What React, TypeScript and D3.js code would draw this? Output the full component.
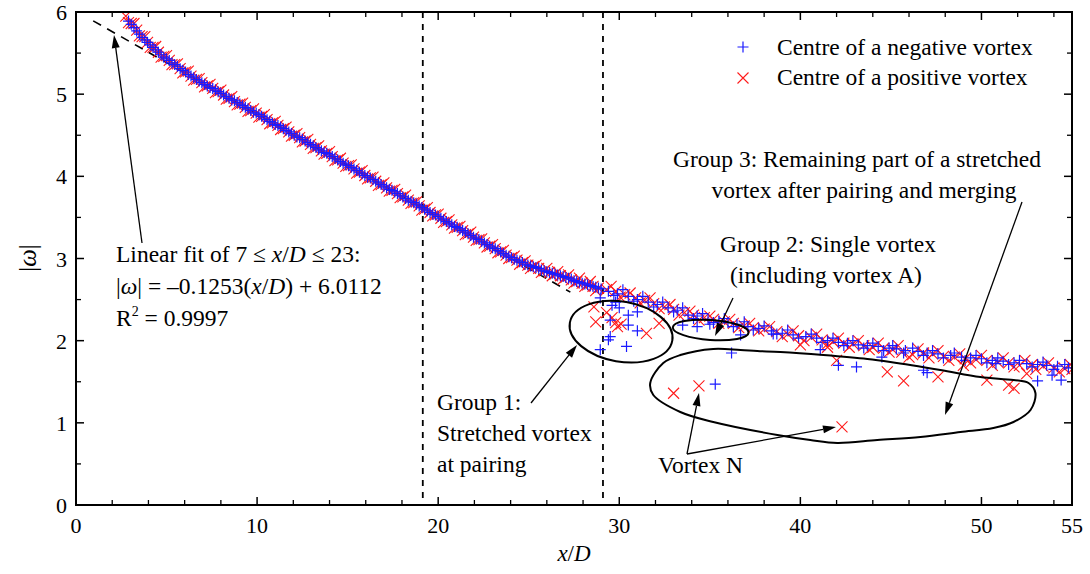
import React from "react";
import * as d3 from "d3";

// ---------- data ----------
const negMain: [number, number][] = [
  [2.9, 5.89], [3.2, 5.81], [3.5, 5.73], [3.8, 5.66], [4.1, 5.6], [4.4, 5.54], [4.7, 5.48], [5.0, 5.43],
  [5.3, 5.38], [5.6, 5.34], [5.9, 5.29], [6.2, 5.24], [6.5, 5.2], [6.8, 5.16], [7.1, 5.12], [7.4, 5.08],
  [7.7, 5.05], [8.0, 5.01], [8.3, 4.97], [8.6, 4.93], [8.9, 4.9], [9.2, 4.86], [9.5, 4.82], [9.8, 4.78],
  [10.1, 4.75], [10.4, 4.71], [10.7, 4.67], [11.0, 4.63], [11.3, 4.6], [11.6, 4.56], [11.9, 4.52], [12.2, 4.48],
  [12.5, 4.45], [12.8, 4.41], [13.1, 4.37], [13.4, 4.33], [13.7, 4.29], [14.0, 4.26], [14.3, 4.22], [14.6, 4.18],
  [14.9, 4.14], [15.2, 4.11], [15.5, 4.07], [15.8, 4.03], [16.1, 3.99], [16.4, 3.96], [16.7, 3.92], [17.0, 3.88],
  [17.3, 3.84], [17.6, 3.81], [17.9, 3.77], [18.2, 3.73], [18.5, 3.69], [18.8, 3.66], [19.1, 3.62], [19.4, 3.58],
  [19.7, 3.54], [20.0, 3.51], [20.3, 3.47], [20.6, 3.43], [20.9, 3.39], [21.2, 3.36], [21.5, 3.32], [21.8, 3.28],
  [22.1, 3.24], [22.4, 3.21], [22.7, 3.17], [23.0, 3.13], [23.3, 3.1], [23.6, 3.06], [23.9, 3.02], [24.2, 2.99],
  [24.5, 2.96], [24.8, 2.93], [25.1, 2.91], [25.4, 2.89], [25.7, 2.86], [26.0, 2.84], [26.3, 2.82], [26.6, 2.8],
  [26.9, 2.78], [27.2, 2.76], [27.5, 2.73], [27.8, 2.71], [28.1, 2.69], [28.4, 2.67], [28.7, 2.65], [29.0, 2.63],
  [29.4, 2.6], [29.9, 2.57], [30.5, 2.54], [31.0, 2.5], [31.6, 2.47], [32.1, 2.44], [32.7, 2.4], [33.2, 2.37],
  [33.8, 2.31], [34.3, 2.3], [34.9, 2.26], [35.5, 2.24], [36.0, 2.22], [36.5, 2.2], [37.1, 2.17], [37.7, 2.15],
  [38.4, 2.12], [39.0, 2.09], [39.6, 2.07], [40.3, 2.05], [40.9, 2.03], [41.5, 2.0], [42.1, 1.98], [42.6, 1.97],
  [43.2, 1.95], [43.7, 1.94], [44.3, 1.93], [44.9, 1.91], [45.3, 1.9], [45.8, 1.88], [46.5, 1.87], [47.0, 1.85],
  [47.6, 1.84], [48.3, 1.82], [48.9, 1.8], [49.4, 1.79], [50.0, 1.78], [50.6, 1.76], [51.2, 1.75], [51.8, 1.73],
  [52.5, 1.72], [53.1, 1.71], [53.6, 1.7], [54.2, 1.69], [54.8, 1.67],
];
const negExtra: [number, number][] = [
  [3.05, 5.85], [3.35, 5.77], [3.65, 5.69], [3.95, 5.63], [4.25, 5.57], [4.55, 5.51], [4.85, 5.45], [5.15, 5.41],
  [5.45, 5.36], [5.75, 5.31], [6.05, 5.27], [6.35, 5.22], [6.65, 5.18], [6.95, 5.14], [7.25, 5.1], [7.55, 5.07],
  [7.85, 5.03], [8.15, 4.99], [8.45, 4.95], [8.75, 4.92], [9.05, 4.88], [9.35, 4.84], [9.65, 4.8], [9.95, 4.77],
  [10.25, 4.73], [10.55, 4.69], [10.85, 4.65], [11.15, 4.62], [11.45, 4.58], [11.75, 4.54], [12.05, 4.5], [12.35, 4.47],
  [12.65, 4.43], [12.95, 4.39], [13.25, 4.35], [13.55, 4.31], [13.85, 4.28], [14.15, 4.24], [14.45, 4.2], [14.75, 4.16],
  [15.05, 4.13], [15.35, 4.09], [15.65, 4.05], [15.95, 4.01], [16.25, 3.98], [16.55, 3.94], [16.85, 3.9], [17.15, 3.86],
  [17.45, 3.83], [17.75, 3.79], [18.05, 3.75], [18.35, 3.71], [18.65, 3.68], [18.95, 3.64], [19.25, 3.6], [19.55, 3.56],
  [19.85, 3.53], [20.15, 3.49], [20.45, 3.45], [20.75, 3.41], [21.05, 3.38], [21.35, 3.34], [21.65, 3.3], [21.95, 3.26],
  [22.25, 3.23], [22.55, 3.19], [22.85, 3.15], [23.15, 3.12], [23.45, 3.08], [23.75, 3.04], [24.05, 3.01], [24.35, 2.98],
  [24.65, 2.95], [24.95, 2.92], [25.25, 2.9], [25.55, 2.88], [25.85, 2.85], [26.15, 2.83], [26.45, 2.81], [26.75, 2.79],
  [27.05, 2.77], [27.35, 2.75], [27.65, 2.72], [27.95, 2.7], [28.25, 2.68], [28.55, 2.66], [28.85, 2.64],
  [29.7, 2.55], [30.2, 2.62], [30.8, 2.48], [31.3, 2.54], [31.9, 2.41], [32.4, 2.47], [33.0, 2.35], [33.5, 2.4],
  [34.1, 2.27], [34.6, 2.33], [35.2, 2.22], [35.8, 2.27], [36.3, 2.17], [36.9, 2.23], [37.4, 2.13], [38.0, 2.18],
  [38.7, 2.08], [39.3, 2.13], [39.9, 2.03], [40.6, 2.08], [41.2, 1.98], [41.8, 2.03], [42.4, 1.94], [42.9, 2.0],
  [43.5, 1.91], [44.0, 1.97], [44.6, 1.88], [45.1, 1.94], [45.7, 1.85], [46.2, 1.91], [46.8, 1.82], [47.3, 1.88],
  [47.9, 1.79], [48.5, 1.85], [49.1, 1.76], [49.7, 1.82], [50.3, 1.73], [50.9, 1.79], [51.5, 1.71], [52.1, 1.76],
  [52.8, 1.68], [53.4, 1.74], [54.0, 1.65], [54.6, 1.71],
];
const negScatter: [number, number][] = [
  [29.6, 2.43], [30.5, 2.31], [31.0, 2.35], [30.5, 2.19], [29.5, 2.25], [31.0, 2.12], [29.5, 2.05],
  [29.4, 2.01], [30.4, 1.93], [28.95, 1.89], [30.0, 2.4], [28.95, 2.52], [29.8, 2.47],
  [33.5, 2.19], [34.3, 2.17], [36.7, 2.07], [35.0, 2.2],
  [36.2, 1.85], [41.1, 1.89], [42.1, 1.7], [43.1, 1.68], [46.8, 1.64], [47.0, 1.61], [53.1, 1.51],
  [54.4, 1.52], [53.9, 1.58], [38.5, 2.08], [44.5, 1.8], [50.8, 1.72], [35.3, 1.47],
];
const posMain: [number, number][] = [
  [2.75, 5.95], [3.05, 5.86], [3.35, 5.78], [3.65, 5.7], [3.95, 5.63], [4.25, 5.57], [4.55, 5.51], [4.85, 5.46],
  [5.15, 5.41], [5.45, 5.36], [5.75, 5.31], [6.05, 5.27], [6.35, 5.22], [6.65, 5.18], [6.95, 5.14], [7.25, 5.1],
  [7.55, 5.07], [7.85, 5.03], [8.15, 4.99], [8.45, 4.95], [8.75, 4.91], [9.05, 4.88], [9.35, 4.84], [9.65, 4.8],
  [9.95, 4.77], [10.25, 4.73], [10.55, 4.69], [10.85, 4.65], [11.15, 4.62], [11.45, 4.58], [11.75, 4.54], [12.05, 4.5],
  [12.35, 4.47], [12.65, 4.43], [12.95, 4.39], [13.25, 4.35], [13.55, 4.31], [13.85, 4.28], [14.15, 4.24], [14.45, 4.2],
  [14.75, 4.16], [15.05, 4.13], [15.35, 4.09], [15.65, 4.05], [15.95, 4.01], [16.25, 3.98], [16.55, 3.94], [16.85, 3.9],
  [17.15, 3.86], [17.45, 3.83], [17.75, 3.79], [18.05, 3.75], [18.35, 3.71], [18.65, 3.68], [18.95, 3.64], [19.25, 3.6],
  [19.55, 3.56], [19.85, 3.53], [20.15, 3.49], [20.45, 3.45], [20.75, 3.41], [21.05, 3.38], [21.35, 3.34], [21.65, 3.3],
  [21.95, 3.26], [22.25, 3.23], [22.55, 3.19], [22.85, 3.15], [23.15, 3.12], [23.45, 3.08], [23.75, 3.04], [24.05, 3.01],
  [24.35, 2.98], [24.65, 2.95], [24.95, 2.92], [25.25, 2.9], [25.55, 2.88], [25.85, 2.85], [26.15, 2.83], [26.45, 2.81],
  [26.75, 2.79], [27.05, 2.77], [27.35, 2.74], [27.65, 2.72], [27.95, 2.7], [28.25, 2.68], [28.55, 2.66], [28.85, 2.64],
  [29.3, 2.62], [29.8, 2.6], [30.3, 2.56], [30.9, 2.52], [31.4, 2.49], [31.9, 2.45], [32.5, 2.41], [33.0, 2.38],
  [33.6, 2.34], [34.1, 2.31], [34.7, 2.28], [35.2, 2.26], [35.8, 2.23], [36.3, 2.21], [36.9, 2.18], [37.4, 2.16],
  [38.0, 2.14], [38.7, 2.11], [39.3, 2.08], [39.9, 2.06], [40.6, 2.04], [41.2, 2.01], [41.8, 1.99], [42.4, 1.97],
  [42.9, 1.96], [43.5, 1.94], [44.0, 1.92], [44.6, 1.91], [45.1, 1.89], [45.6, 1.86], [46.2, 1.83], [46.8, 1.85],
  [47.3, 1.84], [47.9, 1.81], [48.5, 1.8], [49.1, 1.78], [49.7, 1.77], [50.3, 1.76], [50.9, 1.74], [51.5, 1.73],
  [52.1, 1.7], [52.8, 1.71], [53.4, 1.69], [54.0, 1.67], [54.6, 1.66], [55.0, 1.65],
];
const posExtra: [number, number][] = [
  [2.9, 5.87], [3.2, 5.86], [3.5, 5.71], [3.8, 5.7], [4.1, 5.57], [4.4, 5.58], [4.7, 5.45], [5.0, 5.47],
  [5.3, 5.36], [5.6, 5.37], [5.9, 5.26], [6.2, 5.28], [6.5, 5.17], [6.8, 5.19], [7.1, 5.09], [7.4, 5.12],
  [7.7, 5.02], [8.0, 5.05], [8.3, 4.94], [8.6, 4.97], [8.9, 4.87], [9.2, 4.89], [9.5, 4.79], [9.8, 4.82],
  [10.1, 4.72], [10.4, 4.75], [10.7, 4.64], [11.0, 4.67], [11.3, 4.57], [11.6, 4.6], [11.9, 4.49], [12.2, 4.52],
  [12.5, 4.42], [12.8, 4.45], [13.1, 4.34], [13.4, 4.37], [13.7, 4.27], [14.0, 4.3], [14.3, 4.19], [14.6, 4.22],
  [14.9, 4.12], [15.2, 4.14], [15.5, 4.04], [15.8, 4.07], [16.1, 3.97], [16.4, 3.99], [16.7, 3.89], [17.0, 3.92],
  [17.3, 3.82], [17.6, 3.84], [17.9, 3.74], [18.2, 3.77], [18.5, 3.67], [18.8, 3.69], [19.1, 3.59], [19.4, 3.62],
  [19.7, 3.52], [20.0, 3.54], [20.3, 3.44], [20.6, 3.47], [20.9, 3.37], [21.2, 3.39], [21.5, 3.29], [21.8, 3.32],
  [22.1, 3.22], [22.4, 3.24], [22.7, 3.14], [23.0, 3.17], [23.3, 3.07], [23.6, 3.1], [23.9, 3.0], [24.2, 3.03],
  [24.5, 2.93], [24.8, 2.97], [25.1, 2.88], [25.4, 2.92], [25.7, 2.83], [26.0, 2.88], [26.3, 2.79], [26.6, 2.84],
  [26.9, 2.75], [27.2, 2.8], [27.5, 2.7], [27.8, 2.76], [28.1, 2.66], [28.4, 2.72], [28.7, 2.61],
  [29.55, 2.66], [30.05, 2.53], [30.6, 2.58], [31.15, 2.46], [31.7, 2.52], [32.2, 2.39], [32.8, 2.44], [33.3, 2.31],
  [33.9, 2.36], [34.4, 2.25], [35.0, 2.3], [35.5, 2.21], [36.1, 2.26], [36.6, 2.16], [37.2, 2.21], [37.7, 2.12],
  [38.3, 2.17], [39.0, 2.05], [39.6, 2.12], [40.2, 2.0], [40.9, 2.08], [41.5, 1.96], [42.1, 2.03], [42.7, 1.92],
  [43.2, 2.0], [43.8, 1.89], [44.3, 1.97], [44.9, 1.86], [45.4, 1.94], [46.0, 1.8], [46.5, 1.9], [47.1, 1.79],
  [47.6, 1.88], [48.2, 1.76], [48.8, 1.84], [49.4, 1.73], [50.0, 1.82], [50.6, 1.7], [51.2, 1.79], [51.8, 1.68],
  [52.4, 1.76], [53.0, 1.65], [53.7, 1.73], [54.3, 1.62], [54.9, 1.71],
];
const posScatter: [number, number][] = [
  [28.7, 2.23], [29.3, 2.34], [29.9, 2.17], [31.5, 2.09], [32.2, 2.21], [28.6, 2.41], [29.6, 2.28],
  [29.8, 2.22], [30.1, 2.2],
  [42.0, 1.76], [44.8, 1.62], [45.7, 1.51], [47.6, 1.56], [50.3, 1.52], [51.5, 1.46], [51.8, 1.42],
  [40.0, 1.95], [41.5, 1.92], [49.0, 1.7], [52.5, 1.6],
  [33.0, 1.36], [34.4, 1.45], [42.3, 0.95],
];

const xTicksMajor = [0, 10, 20, 30, 40, 50, 55];
const yTicksMajor = [0, 1, 2, 3, 4, 5, 6];
const fitSlope = -0.1253;
const fitIntercept = 6.0112;
const fitRange = [0.95, 27.3];
const dashedX = [19.15, 29.1];

// annotation shapes (data units)
const group3Outline: [number, number][] = [
  [31.71, 1.485], [31.88, 1.339], [33.37, 1.132], [35.19, 1.01], [38.73, 0.852], [40.55, 0.791],
  [42.04, 0.755], [44.25, 0.791], [46.63, 0.828], [48.84, 0.888], [50.66, 0.937], [51.77, 1.01],
  [52.71, 1.156], [52.98, 1.363], [52.6, 1.485], [51.77, 1.521], [49.94, 1.558], [47.73, 1.643],
  [44.97, 1.74], [43.7, 1.777], [41.27, 1.825], [38.9, 1.862], [37.62, 1.874], [36.69, 1.886],
  [35.19, 1.899], [33.37, 1.825], [32.43, 1.728],
];

export default function App() {
  const W = 1090, H = 574;
  const x = d3.scaleLinear().domain([0, 55]).range([76, 1072]);
  const y = d3.scaleLinear().domain([0, 6]).range([505, 12]);
  const font = "'Liberation Serif', 'Times New Roman', serif";
  const blue = "#1a1aff";
  const red = "#ff1a1a";

  const plus = (cx: number, cy: number, k: string) => (
    <path key={k} d={`M${cx - 5.5},${cy}H${cx + 5.5}M${cx},${cy - 5.5}V${cy + 5.5}`} stroke={blue} strokeWidth={1.2} fill="none" />
  );
  const cross = (cx: number, cy: number, k: string) => (
    <path key={k} d={`M${cx - 5.5},${cy - 5.5}L${cx + 5.5},${cy + 5.5}M${cx - 5.5},${cy + 5.5}L${cx + 5.5},${cy - 5.5}`} stroke={red} strokeWidth={1.1} fill="none" />
  );

  const xMinor = d3.range(0, 55.01, 2).filter((v) => v % 10 !== 0);
  const yMinor = d3.range(0.5, 6, 1);

  const outline = d3.line().x((d: any) => x(d[0])).y((d: any) => y(d[1])).curve(d3.curveCatmullRomClosed)(group3Outline as any) as string;

  const g1c = [x(30.1), y(2.11)];
  const g2c = [x(35.05), y(2.13)];

  const arrow = (x1: number, y1: number, x2: number, y2: number, k: string) => {
    const ang = Math.atan2(y2 - y1, x2 - x1);
    const L = 13, Wd = 4;
    const bx = x2 - L * Math.cos(ang), by = y2 - L * Math.sin(ang);
    const px = -Math.sin(ang) * Wd, py = Math.cos(ang) * Wd;
    return (
      <g key={k}>
        <line x1={x1} y1={y1} x2={bx} y2={by} stroke="#000" strokeWidth={1.3} />
        <path d={`M${x2},${y2}L${bx + px},${by + py}L${bx - px},${by - py}Z`} fill="#000" />
      </g>
    );
  };

  const fs = 23.5;

  return (
    <svg width={W} height={H} style={{ position: "absolute", left: 0, top: 0, background: "#fff" }} fontFamily={font}>
      <defs>
        <clipPath id="plotClip">
          <rect x={x(0)} y={y(6)} width={x(55) - x(0)} height={y(0) - y(6)} />
        </clipPath>
      </defs>

      {dashedX.map((d, i) => (
        <line key={"dv" + i} x1={x(d)} x2={x(d)} y1={y(6)} y2={y(0)} stroke="#000" strokeWidth={1.8} strokeDasharray="6,6" />
      ))}

      <line x1={x(fitRange[0])} y1={y(fitIntercept + fitSlope * fitRange[0])} x2={x(fitRange[1])} y2={y(fitIntercept + fitSlope * fitRange[1])}
        stroke="#000" strokeWidth={1.6} strokeDasharray="9,7" />

      <g clipPath="url(#plotClip)">
        {posMain.map((d, i) => cross(x(d[0]), y(d[1]), "pm" + i))}
        {posExtra.map((d, i) => cross(x(d[0]), y(d[1]), "pe" + i))}
        {negMain.map((d, i) => plus(x(d[0]), y(d[1]), "nm" + i))}
        {negExtra.map((d, i) => plus(x(d[0]), y(d[1]), "ne" + i))}
        {posScatter.map((d, i) => cross(x(d[0]), y(d[1]), "ps" + i))}
        {negScatter.map((d, i) => plus(x(d[0]), y(d[1]), "ns" + i))}
      </g>

      <ellipse cx={g1c[0]} cy={g1c[1]} rx={52} ry={30} transform={`rotate(10 ${g1c[0]} ${g1c[1]})`} fill="none" stroke="#000" strokeWidth={2} />
      <ellipse cx={g2c[0]} cy={g2c[1]} rx={38} ry={10} transform={`rotate(4 ${g2c[0]} ${g2c[1]})`} fill="none" stroke="#000" strokeWidth={2} />
      <path d={outline} fill="none" stroke="#000" strokeWidth={2} />

      {arrow(142, 243, 114, 35, "a1")}
      {arrow(531, 403, 577, 345, "a2")}
      {arrow(733, 298, 715, 336, "a3")}
      {arrow(1022, 202, 945, 415, "a4")}
      {arrow(687, 454, 699, 393, "a5")}
      {arrow(687, 454, 836, 427, "a6")}

      <rect x={x(0)} y={y(6)} width={x(55) - x(0)} height={y(0) - y(6)} fill="none" stroke="#000" strokeWidth={2} />

      {xTicksMajor.map((t) => (
        <g key={"xt" + t}>
          <line x1={x(t)} x2={x(t)} y1={y(0)} y2={y(0) - 8} stroke="#000" strokeWidth={1.5} />
          <line x1={x(t)} x2={x(t)} y1={y(6)} y2={y(6) + 8} stroke="#000" strokeWidth={1.5} />
          <text x={x(t)} y={533} textAnchor="middle" fontSize={22} fill="#000">{t}</text>
        </g>
      ))}
      {xMinor.map((t) => (
        <g key={"xm" + t}>
          <line x1={x(t)} x2={x(t)} y1={y(0)} y2={y(0) - 5} stroke="#000" strokeWidth={1.3} />
          <line x1={x(t)} x2={x(t)} y1={y(6)} y2={y(6) + 5} stroke="#000" strokeWidth={1.3} />
        </g>
      ))}
      {yTicksMajor.map((t) => (
        <g key={"yt" + t}>
          <line x1={x(0)} x2={x(0) + 8} y1={y(t)} y2={y(t)} stroke="#000" strokeWidth={1.5} />
          <line x1={x(55)} x2={x(55) - 8} y1={y(t)} y2={y(t)} stroke="#000" strokeWidth={1.5} />
          <text x={67} y={y(t) + 8} textAnchor="end" fontSize={22} fill="#000">{t}</text>
        </g>
      ))}
      {yMinor.map((t) => (
        <g key={"ym" + t}>
          <line x1={x(0)} x2={x(0) + 5} y1={y(t)} y2={y(t)} stroke="#000" strokeWidth={1.3} />
          <line x1={x(55)} x2={x(55) - 5} y1={y(t)} y2={y(t)} stroke="#000" strokeWidth={1.3} />
        </g>
      ))}

      <text x={574} y={561} textAnchor="middle" fontSize={23} fill="#000">
        <tspan fontStyle="italic">x</tspan>/<tspan fontStyle="italic">D</tspan>
      </text>
      <text transform="translate(36,258) rotate(-90)" textAnchor="middle" fontSize={25} fill="#000">
        |<tspan fontStyle="italic">ω</tspan>|
      </text>

      {plus(743, 47, "lg1")}
      {cross(743, 78, "lg2")}
      <text x={777} y={55} fontSize={fs} fill="#000">Centre of a negative vortex</text>
      <text x={777} y={85} fontSize={fs} fill="#000">Centre of a positive vortex</text>

      <text x={857} y={167} textAnchor="middle" fontSize={fs} fill="#000">Group 3: Remaining part of a stretched</text>
      <text x={864} y={198} textAnchor="middle" fontSize={fs} fill="#000">vortex after pairing and merging</text>
      <text x={828} y={252} textAnchor="middle" fontSize={fs} fill="#000">Group 2: Single vortex</text>
      <text x={826} y={283} textAnchor="middle" fontSize={fs} fill="#000">(including vortex A)</text>

      <text x={116} y={262} fontSize={fs} fill="#000">
        Linear fit of 7 ≤ <tspan fontStyle="italic">x</tspan>/<tspan fontStyle="italic">D</tspan> ≤ 23:
      </text>
      <text x={116} y={294} fontSize={fs} fill="#000">
        |<tspan fontStyle="italic">ω</tspan>| = –0.1253(<tspan fontStyle="italic">x</tspan>/<tspan fontStyle="italic">D</tspan>) + 6.0112
      </text>
      <text x={116} y={326} fontSize={fs} fill="#000">
        R<tspan fontSize={14} dy={-10}>2</tspan><tspan dy={10}> = 0.9997</tspan>
      </text>

      <text x={437} y={410} fontSize={fs} fill="#000">Group 1:</text>
      <text x={437} y={441} fontSize={fs} fill="#000">Stretched vortex</text>
      <text x={437} y={472} fontSize={fs} fill="#000">at pairing</text>
      <text x={658} y={473} fontSize={fs} fill="#000">Vortex N</text>
    </svg>
  );
}
